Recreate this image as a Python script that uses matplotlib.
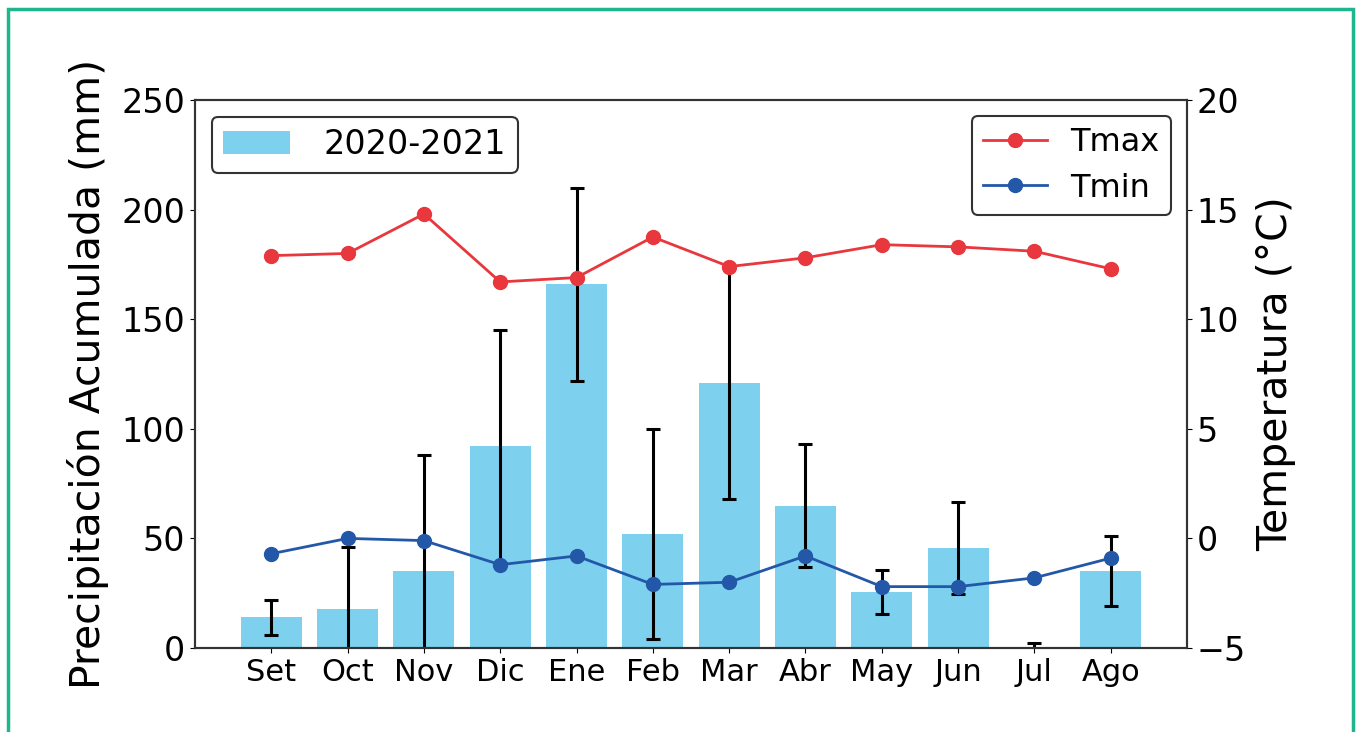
import matplotlib
matplotlib.use('Agg')
import matplotlib.pyplot as plt
import numpy as np

# Data
meses = ['Set', 'Oct', 'Nov', 'Dic', 'Ene', 'Feb', 'Mar', 'Abr', 'May', 'Jun', 'Jul', 'Ago']
precip = [14, 18, 35, 92, 166, 52, 121, 65, 25.5, 45.5, 0, 35]
precip_err = [8, 28, 53, 53, 44, 48, 53, 28, 10, 21, 2.3, 16]
tmax = [12.9, 13.0, 14.8, 11.7, 11.9, 13.75, 12.4, 12.8, 13.4, 13.3, 13.1, 12.3]
tmin = [-0.7, 0.0, -0.1, -1.2, -0.8, -2.1, -2.0, -0.8, -2.2, -2.2, -1.8, -0.9]

fig = plt.figure(figsize=(13.56, 7.32), dpi=100)
ax1 = fig.add_axes([195/1356, 1 - 648/732, (1187-195)/1356, (648-100)/732])

x = np.arange(len(meses))

# Bars with error bars
ax1.bar(x, precip, width=0.8, color='#7DD0EE', label='2020-2021')
ax1.errorbar(x, precip, yerr=precip_err, fmt='none', ecolor='black',
             elinewidth=2.2, capsize=5, capthick=2.2)
ax1.set_ylim(0, 250)
ax1.set_xlim(-1, 12)
ax1.set_xticks(x)
ax1.set_xticklabels(meses, fontsize=22)
ax1.tick_params(axis='y', labelsize=24)
ax1.set_ylabel('Precipitación Acumulada (mm)', fontsize=29.5, labelpad=9)

# Temperatures on twin axis
ax2 = ax1.twinx()
ax2.plot(x, tmax, '-o', color='#E8373D', lw=2, ms=10, label='Tmax')
ax2.plot(x, tmin, '-o', color='#2358A8', lw=2, ms=10, label='Tmin')
ax2.set_ylim(-5, 20)
ax2.tick_params(axis='y', labelsize=24)
ax2.set_ylabel('Temperatura (°C)', fontsize=29.5, labelpad=7)

for a in (ax1, ax2):
    for s in a.spines.values():
        s.set_linewidth(1.5)
        s.set_color('#333333')

leg1 = ax1.legend(loc='upper left', fontsize=24, framealpha=1, edgecolor='#333333',
                  handlelength=2.0, borderpad=0.35, handletextpad=1.0)
leg1.get_frame().set_linewidth(1.5)
leg2 = ax2.legend(loc='upper right', fontsize=23, framealpha=1, edgecolor='#333333',
                  handlelength=2.0, borderpad=0.35, labelspacing=0.45, handletextpad=0.75)
leg2.get_frame().set_linewidth(1.5)

# green frame around the figure
frame = plt.Rectangle((8/1356, -0.05), (1353-8)/1356, 1 - 9/732 + 0.05,
                      transform=fig.transFigure, fill=False,
                      edgecolor='#1FB58F', linewidth=2.5, clip_on=False)
fig.patches.append(frame)

fig.savefig('out.png', dpi=100)
